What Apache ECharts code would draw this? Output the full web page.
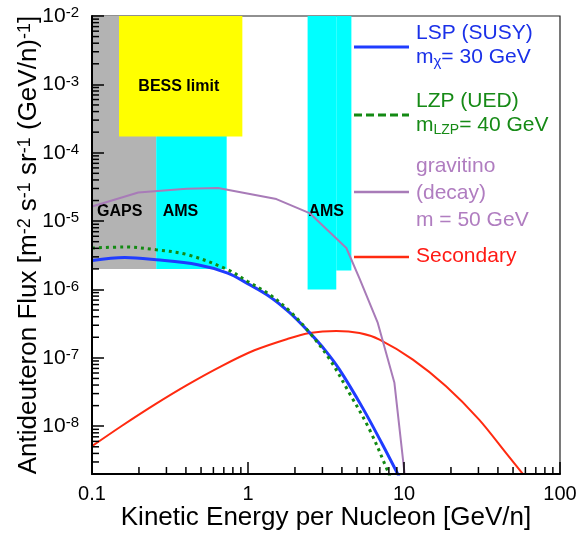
<!DOCTYPE html>
<html>
<head>
<meta charset="utf-8">
<script src="https://cdn.jsdelivr.net/npm/echarts@6/dist/echarts.min.js"></script>
<style>
  html, body { margin: 0; padding: 0; background: #fff; }
  #chart { width: 582px; height: 533px; }
</style>
</head>
<body>
<div id="chart"></div>
<script>
// ---- Antideuteron flux models: kinetic energy per nucleon [GeV/n] vs flux ----
const lspEnergy = [0.1, 0.162, 0.258, 0.476, 0.741, 0.995, 1.38, 1.85, 2.48, 3.10, 3.86, 5.42, 7.28, 9.08, 9.62];
const lspFlux   = [2.66e-6, 2.94e-6, 2.72e-6, 2.30e-6, 1.74e-6, 1.22e-6, 7.85e-7, 4.58e-7, 2.34e-7, 1.32e-7, 6.73e-8, 1.87e-8, 5.41e-9, 2.04e-9, 1.56e-9];

const lzpEnergy = [0.1, 0.162, 0.258, 0.411, 0.741, 0.995, 1.38, 1.85, 2.48, 3.33, 4.48, 6.01, 7.98, 8.18];
const lzpFlux   = [4.04e-6, 4.18e-6, 3.81e-6, 3.22e-6, 1.95e-6, 1.31e-6, 8.39e-7, 4.82e-7, 2.34e-7, 9.60e-8, 3.01e-8, 8.95e-9, 2.04e-9, 1.72e-9];

const gravitinoEnergy = [0.1, 0.198, 0.404, 0.643, 1.52, 2.48, 4.27, 5.19, 6.79, 8.68, 10.07, 10.15];
const gravitinoFlux   = [1.64e-5, 2.62e-5, 2.97e-5, 3.04e-5, 2.10e-5, 1.31e-5, 4.04e-6, 1.44e-6, 3.24e-7, 4.31e-8, 2.08e-9, 1.6e-9];

const secondaryEnergy = [0.1, 0.154, 0.252, 0.411, 0.672, 1.10, 1.79, 2.48, 3.68, 5.19, 6.97, 11.4, 18.6, 30.3, 45.0, 58.1, 61.7];
const secondaryFlux   = [5.11e-9, 1.0e-8, 2.07e-8, 4.06e-8, 7.52e-8, 1.29e-7, 1.89e-7, 2.31e-7, 2.48e-7, 2.31e-7, 1.85e-7, 9.42e-8, 3.84e-8, 1.25e-8, 4.08e-9, 1.97e-9, 1.66e-9];

// ---- Experimental sensitivity regions: [E low, E high] x [flux low, flux high] ----
const regionELow    = [0.1, 0.258, 0.149, 2.41, 3.68];
const regionEHigh   = [0.258, 0.73, 0.92, 3.68, 4.6];
const regionFluxLow = [2e-6, 2e-6, 1.73e-4, 1e-6, 1.9e-6];
const regionFluxHigh= [1e-2, 1e-2, 1e-2, 1e-2, 1e-2];

// Region captions and their anchor points (energy, flux)
const regionLabels   = ['GAPS', 'AMS', 'BESS limit', 'AMS'];
const regionLabelE   = [0.1077, 0.284, 0.36, 2.44];
const regionLabelF   = [1.37e-5, 1.37e-5, 9.3e-4, 1.37e-5];

// Axis tick labels (decades)
const xTickLabels = ['0.1', '1', '10', '100'];
const yTickExponents = ['-8', '-7', '-6', '-5', '-4', '-3', '-2'];

const X_MIN = 0.1, X_MAX = 100, Y_MIN = 2e-9, Y_MAX = 1e-2;
const FONT = '"Liberation Sans", Arial, Helvetica, sans-serif';

const COLORS = {
  lsp: '#1f3cff', lsp_text: '#1a30e8',
  lzp: '#138a13', lzp_text: '#168a16',
  grav: '#a87bb8', grav_text: '#b07dc0',
  sec: '#ff2a10', sec_text: '#ff1a14',
  gaps: '#b3b3b3', ams: '#00ffff', bess: '#ffff00'
};
const regionColors = [COLORS.gaps, COLORS.ams, COLORS.bess, COLORS.ams, COLORS.ams];

function zip(a, b) { return a.map((v, i) => [v, b[i]]); }
function decadeIndex(v, base) {
  const e = Math.log10(v);
  const r = Math.round(e);
  return Math.abs(e - r) < 1e-6 ? r - base : null;
}

// log-axis minor ticks at 2..9 x 10^n strictly inside [lo, hi]
function minorTickValues(lo, hi) {
  const out = [];
  for (let e = Math.floor(Math.log10(lo)); e <= Math.ceil(Math.log10(hi)); e++) {
    for (let k = 2; k <= 9; k++) {
      const v = k * Math.pow(10, e);
      if (v > lo * 1.0001 && v < hi * 0.9999) out.push(v);
    }
  }
  return out;
}
const yMinor = minorTickValues(Y_MIN, Y_MAX);
const xMinor = minorTickValues(X_MIN, X_MAX);

const chart = echarts.init(document.getElementById('chart'), null, { renderer: 'canvas' });

const option = {
  animation: false,
  backgroundColor: '#fff',
  grid: {
    left: 92, right: 22, top: 16, bottom: 59,
    containLabel: false, outerBoundsMode: 'none',
    show: true, borderColor: '#222', borderWidth: 1.2, backgroundColor: 'transparent'
  },
  xAxis: {
    type: 'log', logBase: 10, min: X_MIN, max: X_MAX, z: 10,
    axisLine: { lineStyle: { color: '#000', width: 2 } },
    axisTick: { inside: true, length: 12, lineStyle: { color: '#000', width: 1.5 } },
    splitLine: { show: false },
    axisLabel: {
      margin: 10, color: '#000', fontSize: 20, fontFamily: FONT,
      formatter: v => { const i = decadeIndex(v, -1); return i === null ? '' : (xTickLabels[i] || ''); }
    },
    name: 'Kinetic Energy per Nucleon [GeV/n]',
    nameLocation: 'middle', nameGap: 31, nameMoveOverlap: false,
    nameTextStyle: { color: '#000', fontSize: 26, fontFamily: FONT }
  },
  yAxis: {
    type: 'log', logBase: 10, min: Y_MIN, max: Y_MAX, z: 10,
    axisLine: { lineStyle: { color: '#000', width: 2 } },
    axisTick: { inside: true, length: 12, lineStyle: { color: '#000', width: 1.5 } },
    splitLine: { show: false },
    axisLabel: {
      margin: 13, color: '#000', fontFamily: FONT,
      formatter: v => {
        const i = decadeIndex(v, -8);
        if (i === null || !yTickExponents[i]) return '';
        return '{b|10}{e|' + yTickExponents[i] + '}';
      },
      rich: {
        b: { fontSize: 21, fontFamily: FONT, color: '#000', lineHeight: 21 },
        e: { fontSize: 15, fontFamily: FONT, color: '#000', lineHeight: 15, verticalAlign: 'top' }
      }
    },
    name: '{t|Antideuteron Flux [m}{s|-2}{t| s}{s|-1}{t| sr}{s|-1}{t| (GeV/n)}{s|-1}{t|]}',
    nameLocation: 'middle', nameGap: 50, nameRotate: 90, nameMoveOverlap: false,
    nameTextStyle: {
      color: '#000', fontFamily: FONT, fontSize: 26,
      rich: {
        t: { fontSize: 26, fontFamily: FONT, color: '#000', lineHeight: 26 },
        s: { fontSize: 18, fontFamily: FONT, color: '#000', lineHeight: 18, verticalAlign: 'top' }
      }
    }
  },
  series: [
    {
      // shaded sensitivity regions
      type: 'custom', coordinateSystem: 'cartesian2d', silent: true, z: 1, clip: true,
      data: regionELow.map((e, i) => [e, regionFluxHigh[i], regionEHigh[i], regionFluxLow[i]]),
      renderItem: (params, api) => {
        const p0 = api.coord([api.value(0), api.value(1)]);
        const p1 = api.coord([api.value(2), api.value(3)]);
        return {
          type: 'rect',
          shape: { x: p0[0], y: p0[1], width: p1[0] - p0[0], height: p1[1] - p0[1] },
          style: { fill: regionColors[params.dataIndex] }
        };
      }
    },
    {
      // region captions
      type: 'custom', coordinateSystem: 'cartesian2d', silent: true, z: 3,
      data: regionLabelE.map((e, i) => [e, regionLabelF[i]]),
      renderItem: (params, api) => {
        const p = api.coord([api.value(0), api.value(1)]);
        const centered = regionLabels[params.dataIndex] === 'BESS limit';
        return {
          type: 'text', x: p[0], y: p[1],
          style: {
            text: regionLabels[params.dataIndex],
            font: 'bold 16px ' + FONT, fill: '#000',
            align: centered ? 'center' : 'left', verticalAlign: 'middle'
          }
        };
      }
    },
    {
      name: 'Secondary', type: 'line', z: 4, showSymbol: false, smooth: 0.3,
      data: zip(secondaryEnergy, secondaryFlux),
      lineStyle: { color: COLORS.sec, width: 2 }
    },
    {
      name: 'gravitino', type: 'line', z: 4, showSymbol: false, smooth: false,
      data: zip(gravitinoEnergy, gravitinoFlux),
      lineStyle: { color: COLORS.grav, width: 2 }
    },
    {
      name: 'LSP', type: 'line', z: 5, showSymbol: false, smooth: 0.35,
      data: zip(lspEnergy, lspFlux),
      lineStyle: { color: COLORS.lsp, width: 3 }
    },
    {
      name: 'LZP', type: 'line', z: 6, showSymbol: false, smooth: 0.35,
      data: zip(lzpEnergy, lzpFlux),
      lineStyle: { color: COLORS.lzp, width: 3, type: [3, 4] }
    },
    {
      // minor ticks on the flux axis
      type: 'custom', coordinateSystem: 'cartesian2d', silent: true, z: 12, clip: false,
      data: yMinor.map(v => [X_MIN, v]),
      renderItem: (params, api) => {
        const p = api.coord([api.value(0), api.value(1)]);
        return { type: 'line', shape: { x1: p[0], y1: p[1], x2: p[0] + 7, y2: p[1] },
                 style: { stroke: '#000', lineWidth: 1.5 } };
      }
    },
    {
      // minor ticks on the energy axis
      type: 'custom', coordinateSystem: 'cartesian2d', silent: true, z: 12, clip: false,
      data: xMinor.map(v => [v, Y_MIN]),
      renderItem: (params, api) => {
        const p = api.coord([api.value(0), api.value(1)]);
        return { type: 'line', shape: { x1: p[0], y1: p[1], x2: p[0], y2: p[1] - 7 },
                 style: { stroke: '#000', lineWidth: 1.5 } };
      }
    }
  ],
  graphic: [
    // legend keys
    { type: 'line', z: 20, shape: { x1: 354, y1: 47, x2: 409, y2: 47 }, style: { stroke: COLORS.lsp, lineWidth: 3 } },
    { type: 'line', z: 20, shape: { x1: 354, y1: 115, x2: 409, y2: 115 }, style: { stroke: COLORS.lzp, lineWidth: 3, lineDash: [8, 4] } },
    { type: 'line', z: 20, shape: { x1: 354, y1: 192, x2: 409, y2: 192 }, style: { stroke: COLORS.grav, lineWidth: 2.5 } },
    { type: 'line', z: 20, shape: { x1: 354, y1: 257, x2: 409, y2: 257 }, style: { stroke: COLORS.sec, lineWidth: 2.5 } },
    // legend texts
    { type: 'text', z: 20, x: 416, y: 33, style: { text: 'LSP (SUSY)', font: '21px ' + FONT, fill: COLORS.lsp_text, verticalAlign: 'middle' } },
    { type: 'text', z: 20, x: 416, y: 57, style: {
        text: '{a|m}{b|χ}{a|= 30 GeV}', verticalAlign: 'middle',
        rich: { a: { fontSize: 21, fontFamily: FONT, fill: COLORS.lsp_text, lineHeight: 24 },
                b: { fontSize: 15, fontFamily: FONT, fill: COLORS.lsp_text, lineHeight: 10, verticalAlign: 'bottom' } } } },
    { type: 'text', z: 20, x: 416, y: 101, style: { text: 'LZP (UED)', font: '21px ' + FONT, fill: COLORS.lzp_text, verticalAlign: 'middle' } },
    { type: 'text', z: 20, x: 416, y: 125, style: {
        text: '{a|m}{b|LZP}{a|= 40 GeV}', verticalAlign: 'middle',
        rich: { a: { fontSize: 21, fontFamily: FONT, fill: COLORS.lzp_text, lineHeight: 24 },
                b: { fontSize: 14, fontFamily: FONT, fill: COLORS.lzp_text, lineHeight: 9, verticalAlign: 'bottom' } } } },
    { type: 'text', z: 20, x: 416, y: 166, style: { text: 'gravitino', font: '21px ' + FONT, fill: COLORS.grav_text, verticalAlign: 'middle' } },
    { type: 'text', z: 20, x: 416, y: 193, style: { text: '(decay)', font: '21px ' + FONT, fill: COLORS.grav_text, verticalAlign: 'middle' } },
    { type: 'text', z: 20, x: 416, y: 220, style: { text: 'm = 50 GeV', font: '21px ' + FONT, fill: COLORS.grav_text, verticalAlign: 'middle' } },
    { type: 'text', z: 20, x: 416, y: 256, style: { text: 'Secondary', font: '21px ' + FONT, fill: COLORS.sec_text, verticalAlign: 'middle' } }
  ]
};

chart.setOption(option);
</script>
</body>
</html>
